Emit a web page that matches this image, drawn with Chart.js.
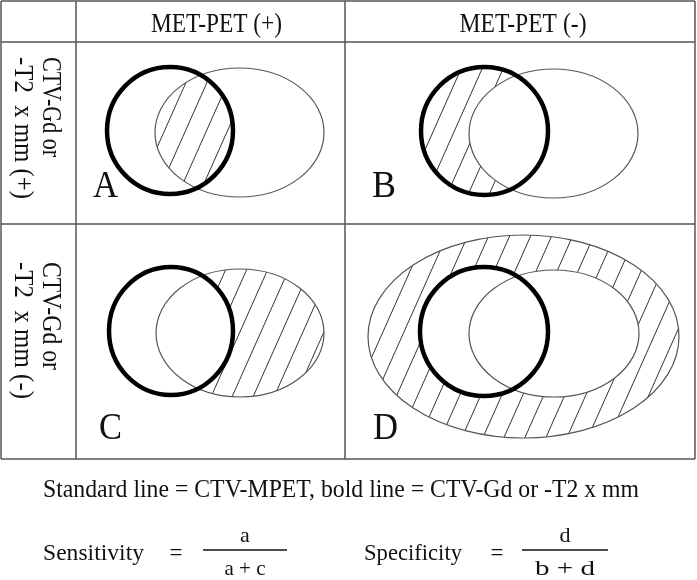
<!DOCTYPE html>
<html>
<head>
<meta charset="utf-8">
<script src="https://cdn.jsdelivr.net/npm/chart.js@4.4.1/dist/chart.umd.min.js"></script>
<style>
  html, body { margin: 0; padding: 0; background: #fff; }
</style>
</head>
<body>
<canvas id="venn" width="697" height="580"></canvas>
<script>
// TABLE GRID (units of the x / y scales)
const colEdges = [0, 75, 344, 694];
const rowEdges = [0, 41, 223, 458];
const colLabels = ["MET-PET (+)", "MET-PET (-)"];
const rowLabels = [["CTV-Gd or", "-T2  x mm (+)"], ["CTV-Gd or", "-T2  x mm (-)"]];
const panelLetters = ["A", "B", "C", "D"];

// ELIPSES [cx, cy, rx, ry] (units of the scales)
const boldEllipses = [[169, 129.5, 63, 63.5], [483.5, 130, 63.5, 64], [170, 330, 62, 64], [483, 330.5, 64, 64.5]];
const thinEllipses = [[238.5, 131.5, 84.5, 64.5], [552.5, 132.5, 84.5, 64.5], [239, 332, 84, 64], [553, 332.5, 85, 63.5]];
const outerEllipses = [null, null, null, [522.5, 335.5, 155.5, 101.5]];
// zona rayada de cada panel
const hatchRegion = ["bold&thin", "bold-thin", "thin-bold", "outer-bold-thin"];

// TEXTOS DE ABAJO
const noteText = "Standard line = CTV-MPET, bold line = CTV-Gd or -T2 x mm";
const formulaNames = ["Sensitivity", "Specificity"];
const formulaNum = ["a", "d"];
const formulaDen = ["a + c", "b + d"];

// layout (pixels) for the text pieces
const layout = {
    header: { baseline: 32, size: 27, widths: [131, 127], shift: [6, 3] },
    rowText: { size: 27, baselines: [43, 15], starts: [57, 262], widths: [[100, 142], [108, 137]] },
    letter: { size: 37, dx: [17, 27, 23, 28], widths: [25, 24, 23, 25], baselines: [197, 197, 439, 439] },
    note: { x: 43, baseline: 497, size: 25, width: 596 },
    formula: {
        nameX: [43, 364], nameW: [101, 98], baseline: 560, size: 23,
        eqX: [176, 497], barX: [[203, 287], [522, 608]], barY: 550,
        numBaseline: 542, denBaseline: 575, denW: [41, 60], fracSize: 22
    }
};

const FONT = "'Liberation Serif', 'Times New Roman', serif";

function drawText(ctx, text, x, y, size, width, align) {
    ctx.font = size + "px " + FONT;
    const w = ctx.measureText(text).width;
    const sx = width ? width / w : 1;
    ctx.save();
    ctx.translate(x, y);
    ctx.scale(sx, 1);
    ctx.textAlign = align || "left";
    ctx.textBaseline = "alphabetic";
    ctx.fillText(text, 0, 0);
    ctx.restore();
}

function ellipsePath(e, xs, ys, path) {
    const cx = xs.getPixelForValue(e[0]);
    const cy = ys.getPixelForValue(e[1]);
    const rx = Math.abs(xs.getPixelForValue(e[0] + e[2]) - cx);
    const ry = Math.abs(ys.getPixelForValue(e[1] + e[3]) - cy);
    const p = path || new Path2D();
    p.moveTo(cx + rx, cy);
    p.ellipse(cx, cy, rx, ry, 0, 0, Math.PI * 2);
    return p;
}

function outsidePath(e, xs, ys, area) {
    const p = new Path2D();
    p.rect(area.left, area.top, area.right - area.left, area.bottom - area.top);
    return ellipsePath(e, xs, ys, p);
}

function hatch(ctx, area) {
    const slope = 1 / Math.tan(66 * Math.PI / 180);
    const spacing = 21;
    const h = area.bottom - area.top;
    ctx.beginPath();
    for (let x = area.left - h * slope - 40; x < area.right + 40; x += spacing) {
        ctx.moveTo(x, area.bottom);
        ctx.lineTo(x + h * slope, area.top);
    }
    ctx.strokeStyle = "#333";
    ctx.lineWidth = 1;
    ctx.stroke();
}

const vennPlugin = {
    id: "venn",
    afterDraw(chart) {
        const ctx = chart.ctx;
        const xs = chart.scales.x;
        const ys = chart.scales.y;
        ctx.save();
        ctx.fillStyle = "#111";

        // rayado y elipses de cada panel
        panelLetters.forEach((letter, i) => {
            const col = i % 2, row = Math.floor(i / 2);
            const cell = {
                left: xs.getPixelForValue(colEdges[col + 1]),
                right: xs.getPixelForValue(colEdges[col + 2]),
                top: ys.getPixelForValue(rowEdges[row + 1]),
                bottom: ys.getPixelForValue(rowEdges[row + 2])
            };
            const bold = boldEllipses[i], thin = thinEllipses[i], outer = outerEllipses[i];

            ctx.save();
            const region = hatchRegion[i];
            if (region === "bold&thin") {
                ctx.clip(ellipsePath(bold, xs, ys));
                ctx.clip(ellipsePath(thin, xs, ys));
            } else if (region === "bold-thin") {
                ctx.clip(ellipsePath(bold, xs, ys));
                ctx.clip(outsidePath(thin, xs, ys, cell), "evenodd");
            } else if (region === "thin-bold") {
                ctx.clip(ellipsePath(thin, xs, ys));
                ctx.clip(outsidePath(bold, xs, ys, cell), "evenodd");
            } else {
                ctx.clip(ellipsePath(outer, xs, ys));
                ctx.clip(outsidePath(bold, xs, ys, cell), "evenodd");
                ctx.clip(outsidePath(thin, xs, ys, cell), "evenodd");
            }
            hatch(ctx, cell);
            ctx.restore();

            ctx.strokeStyle = "#555";
            ctx.lineWidth = 1.2;
            if (outer) ctx.stroke(ellipsePath(outer, xs, ys));
            ctx.stroke(ellipsePath(thin, xs, ys));
            ctx.strokeStyle = "#000";
            ctx.lineWidth = 4.5;
            ctx.stroke(ellipsePath(bold, xs, ys));

            drawText(ctx, letter, cell.left + layout.letter.dx[i], layout.letter.baselines[i], layout.letter.size, layout.letter.widths[i]);
        });

        // lineas de la tabla
        ctx.strokeStyle = "#555";
        ctx.lineWidth = 1.5;
        ctx.beginPath();
        colEdges.forEach(v => {
            const x = xs.getPixelForValue(v);
            ctx.moveTo(x, ys.getPixelForValue(rowEdges[0]));
            ctx.lineTo(x, ys.getPixelForValue(rowEdges[rowEdges.length - 1]));
        });
        rowEdges.forEach(v => {
            const y = ys.getPixelForValue(v);
            ctx.moveTo(xs.getPixelForValue(colEdges[0]), y);
            ctx.lineTo(xs.getPixelForValue(colEdges[colEdges.length - 1]), y);
        });
        ctx.stroke();

        // encabezados de columnas
        colLabels.forEach((label, c) => {
            const cx = (xs.getPixelForValue(colEdges[c + 1]) + xs.getPixelForValue(colEdges[c + 2])) / 2;
            drawText(ctx, label, cx + layout.header.shift[c], layout.header.baseline, layout.header.size, layout.header.widths[c], "center");
        });

        // encabezados de filas (girados)
        rowLabels.forEach((lines, r) => {
            lines.forEach((line, k) => {
                ctx.save();
                ctx.translate(layout.rowText.baselines[k], layout.rowText.starts[r]);
                ctx.rotate(Math.PI / 2);
                drawText(ctx, line, 0, 0, layout.rowText.size, layout.rowText.widths[r][k], "left");
                ctx.restore();
            });
        });

        // nota y formulas
        drawText(ctx, noteText, layout.note.x, layout.note.baseline, layout.note.size, layout.note.width);
        const f = layout.formula;
        formulaNames.forEach((name, i) => {
            drawText(ctx, name, f.nameX[i], f.baseline, f.size, f.nameW[i]);
            drawText(ctx, "=", f.eqX[i], f.baseline, f.size, null, "center");
            const bx = f.barX[i];
            ctx.strokeStyle = "#111";
            ctx.lineWidth = 1.6;
            ctx.beginPath();
            ctx.moveTo(bx[0], f.barY);
            ctx.lineTo(bx[1], f.barY);
            ctx.stroke();
            const mid = (bx[0] + bx[1]) / 2;
            drawText(ctx, formulaNum[i], mid, f.numBaseline, f.fracSize, null, "center");
            drawText(ctx, formulaDen[i], mid, f.denBaseline, f.fracSize, f.denW[i], "center");
        });
        ctx.restore();
    }
};

document.addEventListener("DOMContentLoaded", function () {
    const centers = boldEllipses.map(e => ({ x: e[0], y: e[1] }));
    new Chart(document.getElementById("venn"), {
        type: "scatter",
        data: {
            datasets: [{ label: "centros", data: centers, pointRadius: 0 }]
        },
        options: {
            responsive: false,
            animation: false,
            events: [],
            layout: { padding: { left: 1, top: 1, right: 2, bottom: 121 } },
            plugins: { legend: { display: false }, tooltip: { enabled: false } },
            scales: {
                x: { type: "linear", min: 0, max: 694, display: false },
                y: { type: "linear", min: 0, max: 458, reverse: true, display: false }
            }
        },
        plugins: [vennPlugin]
    });
});
</script>
</body>
</html>
